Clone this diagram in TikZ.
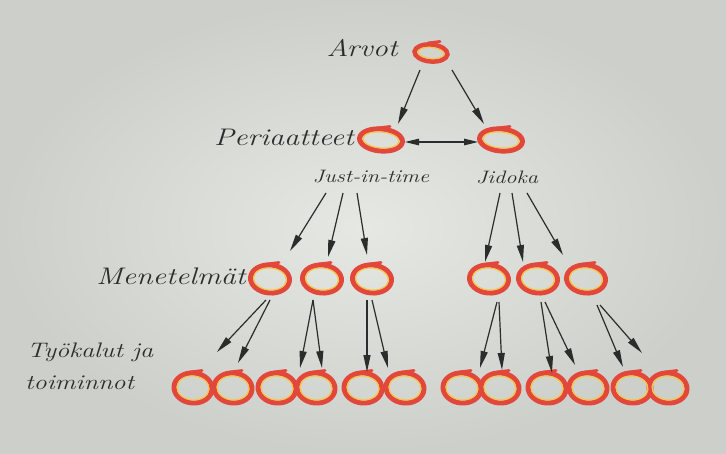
\documentclass[tikz,border=0pt]{standalone}
\usepackage{graphicx}
\usetikzlibrary{arrows.meta,shapes.geometric}
\definecolor{bgin}{HTML}{E6E8E3}
\definecolor{bgout}{HTML}{CDD0CA}
\definecolor{ringred}{HTML}{E2473C}
\definecolor{ringyel}{HTML}{F4C64A}
\definecolor{ink}{HTML}{2C2D2A}
\newcommand{\hw}[2]{{\fontsize{#1}{#1}\selectfont\itshape\scalebox{1.25}[1]{#2}}}
\tikzset{
  ringbase/.style={ellipse, draw=ringred, line width=5pt, inner sep=0pt, outer sep=0pt, rotate=-5},
  ringS/.style={ringbase, minimum width=33pt, minimum height=17pt, line width=4.5pt},
  ringM/.style={ringbase, minimum width=43pt, minimum height=22pt},
  ringL/.style={ringbase, minimum width=39pt, minimum height=28pt},
  ringB/.style={ringbase, minimum width=38pt, minimum height=30pt},
  lbl/.style={text=ink, inner sep=0pt},
  arr/.style={draw=ink, line width=1.2pt, -{Triangle[length=17pt,width=7pt]}},
  darr/.style={draw=ink, line width=1.2pt, {Triangle[length=14pt,width=6.5pt]}-{Triangle[length=14pt,width=6.5pt]}},
  inl/.style={draw=ringyel, line width=1.2pt, rotate around={-5:(#1.center)}},
  tick/.style={draw=ringred, line width=2.8pt, line cap=round},
}
\begin{document}
\begin{tikzpicture}[x=1pt,y=-1pt]
\useasboundingbox (0,0) rectangle (726,453);
\shade[inner color=bgin, outer color=bgout] (0,0) rectangle (726,453);

% labels
\node[lbl] (larvot) at (362,48) {\hw{24}{Arvot}};
\node[lbl] (lper) at (284,137) {\hw{24}{Periaatteet}};
\node[lbl] (ljit) at (371,177) {\hw{18}{Just-in-time}};
\node[lbl] (ljid) at (507,177) {\hw{18}{Jidoka}};
\node[lbl] (lmen) at (171,276) {\hw{24}{Menetelmät}};
\node[lbl, anchor=west] (ltyo) at (27,352) {\hw{21}{Työkalut ja}};
\node[lbl, anchor=west] (ltoi) at (25,383) {\hw{21}{toiminnot}};

% rings
\node[ringS] (t) at (431,53) {};
\node[ringM] (p1) at (381,140) {};
\node[ringM] (p2) at (501,140) {};
\foreach \x [count=\i] in {270,322,372,489,538,586}
  \node[ringL] (m\i) at (\x,279) {};
\foreach \x [count=\i] in {193,233,277,316,363,405,462,500,547,588,632,668}
  \node[ringB] (b\i) at (\x,388) {};

% inner yellow lining
\foreach \n/\rx/\ry in {t/13/5.5, p1/18/8, p2/18/8,
  m1/16.5/11, m2/16.5/11, m3/16.5/11, m4/16.5/11, m5/16.5/11, m6/16.5/11,
  b1/16/12, b2/16/12, b3/16/12, b4/16/12, b5/16/12, b6/16/12,
  b7/16/12, b8/16/12, b9/16/12, b10/16/12, b11/16/12, b12/16/12}
  \draw[inl=\n] (\n.center) ellipse [x radius=\rx, y radius=\ry];

% small stroke ends at the top right of each ring
\foreach \n/\h in {t/10,p1/12,p2/12,m1/15,m2/15,m3/15,m4/15,m5/15,m6/15,b1/16,b2/16,b3/16,b4/16,b5/16,b6/16,b7/16,b8/16,b9/16,b10/16,b11/16,b12/16}
  \draw[tick] ([shift={(-3,-\h)}]\n.center) -- ([shift={(9,-\h-1.5)}]\n.center);

% arrows top -> principles
\coordinate (ts1) at (420,70);  \coordinate (te1) at (398,124);
\coordinate (ts2) at (452,70);  \coordinate (te2) at (484,124);
\draw[arr] (ts1) -- (te1);
\draw[arr] (ts2) -- (te2);
\coordinate (ds) at (405,142); \coordinate (de) at (478,142);
\draw[darr] (ds) -- (de);

% arrows principles -> methods
\foreach \sx/\ex/\ey [count=\i] in {326/290/251, 343/328/257, 357/367/255, 500/485/262, 512/523/262, 527/563/255}{
  \coordinate (ps\i) at (\sx,193);
  \coordinate (pe\i) at (\ex,\ey);
  \draw[arr] (ps\i) -- (pe\i);
}

% arrows methods -> tools
\foreach \sx/\sy/\ex/\ey [count=\i] in {
  266/300/217/352, 270/300/238/363,
  313/300/300/368, 313/300/322/368,
  367/300/367/372, 372/300/388/368,
  497/302/480/368, 499/302/502/370,
  541/302/552/373, 545/302/575/365,
  597/305/623/367, 600/305/642/353}{
  \coordinate (ms\i) at (\sx,\sy);
  \coordinate (me\i) at (\ex,\ey);
  \draw[arr] (ms\i) -- (me\i);
}
\end{tikzpicture}
\end{document}
